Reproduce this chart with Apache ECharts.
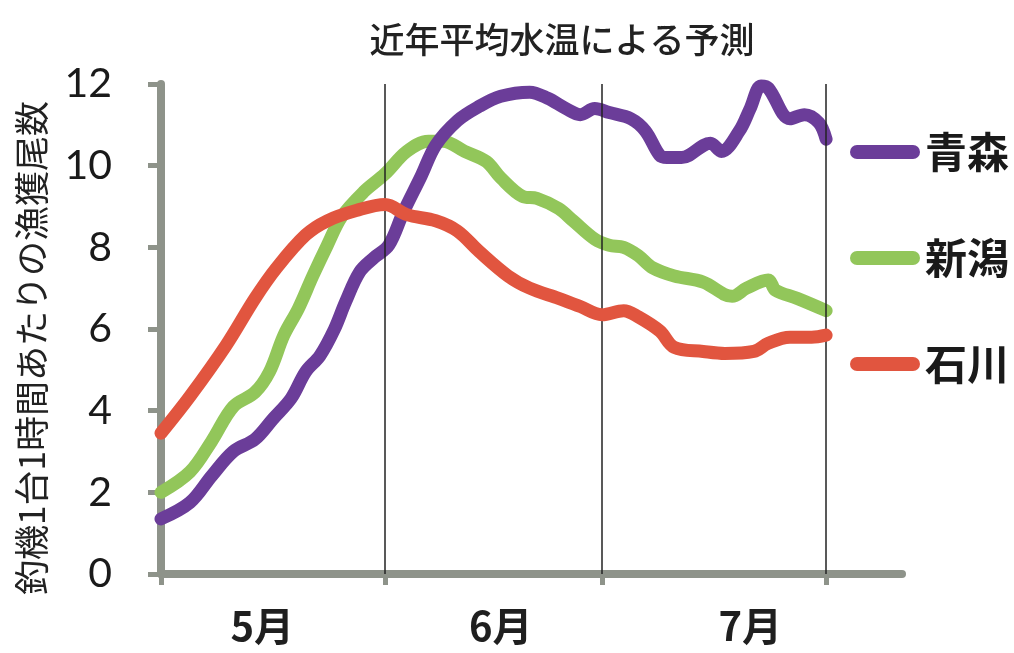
<!DOCTYPE html>
<html>
<head>
<meta charset="utf-8">
<script src="https://cdn.jsdelivr.net/npm/echarts@6/dist/echarts.min.js"></script>
<style>
  html, body { margin: 0; padding: 0; background: #fff; }
  #chart { width: 1014px; height: 653px; }
</style>
</head>
<body>
<div id="chart"></div>
<script>
// Days counted from 1 May; values are catch per rod per hour.
const seriesNames = ['青森', '新潟', '石川'];

const aomoriDays = [0, 4, 7, 10, 13, 15.5, 18, 20, 22, 24, 25.5, 27.5, 29.5, 31.5, 33.5, 36, 38, 41, 44, 47, 51, 53.5, 56, 58, 60, 62, 65, 67, 69, 70, 72, 76, 77.5, 80, 81.5, 83, 84, 87, 89, 91, 92];
const aomoriVals = [1.35, 1.75, 2.4, 3.0, 3.3, 3.8, 4.3, 4.95, 5.35, 6.0, 6.65, 7.4, 7.75, 8.05, 8.85, 9.75, 10.5, 11.1, 11.45, 11.7, 11.8, 11.65, 11.4, 11.25, 11.4, 11.3, 11.15, 10.85, 10.25, 10.2, 10.2, 10.55, 10.35, 10.85, 11.4, 11.95, 11.9, 11.15, 11.25, 11.05, 10.65];

const niigataDays = [0, 4, 7, 10, 13, 15, 17, 19, 21, 23, 25, 28, 31, 34, 37, 39, 42, 45, 47, 50, 52, 55, 57, 60, 62, 64, 66, 68, 71, 75, 79, 81, 84, 85, 88, 92];
const niigataVals = [2.0, 2.5, 3.25, 4.1, 4.45, 4.95, 5.85, 6.5, 7.3, 8.05, 8.75, 9.35, 9.8, 10.35, 10.6, 10.6, 10.35, 10.1, 9.7, 9.25, 9.2, 8.95, 8.65, 8.2, 8.05, 8.0, 7.8, 7.5, 7.3, 7.15, 6.8, 7.0, 7.2, 6.95, 6.75, 6.45];

const ishikawaDays = [0, 4, 9, 13, 16, 20, 23, 27, 31, 34, 38, 41, 44, 48, 51, 55, 58, 61, 64, 66, 69, 71, 75, 78, 82, 84, 87, 90, 92];
const ishikawaVals = [3.45, 4.35, 5.6, 6.75, 7.5, 8.3, 8.65, 8.9, 9.05, 8.8, 8.65, 8.4, 7.9, 7.3, 7.0, 6.75, 6.55, 6.35, 6.45, 6.3, 5.95, 5.55, 5.45, 5.4, 5.45, 5.65, 5.8, 5.8, 5.85];

// Month boundaries (day index) and month labels
const monthTicks = [0, 31, 61, 92];
const monthBounds = [31, 61, 92];
const monthLabelDays = [14, 47, 81.5];
const monthLabels = ['5月', '6月', '7月'];
const yTicks = [0, 2, 4, 6, 8, 10, 12];

const colors = { '青森': '#6b3d99', '新潟': '#92c65a', '石川': '#e1553f' };

function pairs(xs, ys) { return xs.map((x, i) => [x, ys[i]]); }

const axisGray = '#8e938a';
const chart = echarts.init(document.getElementById('chart'));

function lineSeries(name, data, z) {
  return {
    name: name,
    type: 'line',
    data: data,
    smooth: 0.35,
    showSymbol: false,
    symbol: 'none',
    z: z,
    color: colors[name],
    lineStyle: { width: 13, color: colors[name], cap: 'round', join: 'round' }
  };
}

const legendIcon = 'path://M7,0 H63 A7,7 0 0 1 63,14 H7 A7,7 0 0 1 7,0 Z';

chart.setOption({
  animation: false,
  backgroundColor: '#ffffff',
  title: {
    text: '近年平均水温による予測',
    left: 557,
    top: 17,
    textAlign: 'center',
    textStyle: {
      fontFamily: '"Noto Sans CJK JP", sans-serif',
      fontSize: 35,
      fontWeight: 500,
      color: '#222'
    }
  },
  legend: {
    orient: 'vertical',
    left: 845,
    top: 125,
    itemWidth: 70,
    itemHeight: 14,
    itemGap: 62,
    data: seriesNames.map(n => ({ name: n, icon: legendIcon })),
    textStyle: {
      fontFamily: '"Noto Sans CJK JP", sans-serif',
      fontSize: 42,
      fontWeight: 'bold',
      color: '#1a1a1a',
      lineHeight: 44
    }
  },
  grid: { left: 161, right: 112, top: 84, bottom: 79, containLabel: false },
  xAxis: {
    type: 'value',
    min: 0,
    max: 102.5,
    axisLine: { show: true, lineStyle: { color: axisGray, width: 8 } },
    axisTick: {
      show: true,
      customValues: monthTicks,
      length: 11,
      lineStyle: { color: axisGray, width: 5 }
    },
    splitLine: { show: false },
    axisLabel: {
      customValues: monthLabelDays,
      formatter: function (v) {
        const i = monthLabelDays.indexOf(v);
        return i >= 0 ? monthLabels[i] : '';
      },
      margin: 32,
      fontFamily: '"Noto Sans CJK JP", sans-serif',
      fontSize: 40,
      fontWeight: 'bold',
      color: '#1f1f1f'
    }
  },
  yAxis: {
    type: 'value',
    min: 0,
    max: 12,
    interval: 2,
    name: '釣機1台1時間あたりの漁獲尾数',
    nameLocation: 'middle',
    nameRotate: 90,
    nameGap: 112,
    nameTextStyle: {
      fontFamily: '"Noto Sans CJK JP", sans-serif',
      fontSize: 35,
      color: '#222',
      padding: [0, 38, 0, 0]
    },
    axisLine: { show: true, lineStyle: { color: axisGray, width: 8 } },
    axisTick: { show: true, length: 13, lineStyle: { color: axisGray, width: 5 } },
    splitLine: { show: false },
    axisLabel: {
      margin: 49,
      fontFamily: 'Lato, "Open Sans", sans-serif',
      fontSize: 41,
      color: '#1a1a1a',
      formatter: function (v) { return yTicks.indexOf(v) >= 0 ? String(v) : ''; }
    }
  },
  series: [
    {
      name: 'monthLines',
      type: 'line',
      data: [],
      z: 1,
      markLine: {
        silent: true,
        symbol: ['none', 'none'],
        label: { show: false },
        lineStyle: { color: '#222', width: 1.5, type: 'solid' },
        data: monthBounds.map(d => ({ xAxis: d }))
      }
    },
    lineSeries('青森', pairs(aomoriDays, aomoriVals), 4),
    lineSeries('新潟', pairs(niigataDays, niigataVals), 3),
    lineSeries('石川', pairs(ishikawaDays, ishikawaVals), 5)
  ]
});
</script>
</body>
</html>
